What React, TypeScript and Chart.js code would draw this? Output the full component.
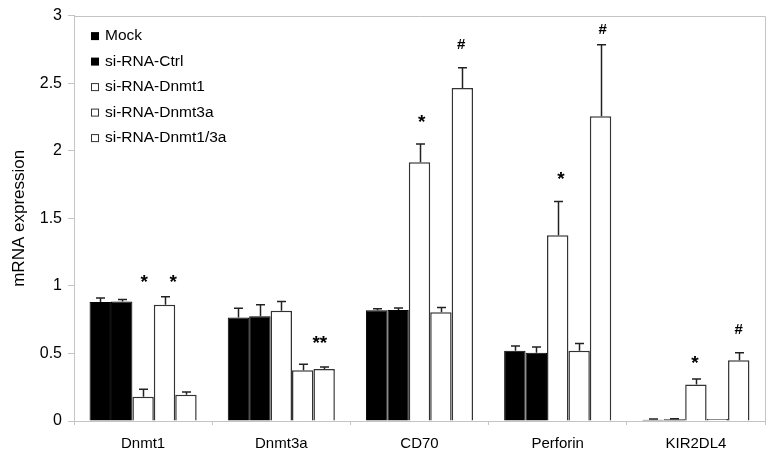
import React, { useEffect, useRef } from 'react';
import { Chart, registerables } from 'chart.js';

Chart.register(...registerables);

const categories = ['Dnmt1', 'Dnmt3a', 'CD70', 'Perforin', 'KIR2DL4'];
const seriesLabels = ['Mock', 'si-RNA-Ctrl', 'si-RNA-Dnmt1', 'si-RNA-Dnmt3a', 'si-RNA-Dnmt1/3a'];

const mock = [0.88, 0.765, 0.82, 0.52, 0.01];
const mockErr = [0.03, 0.07, 0.01, 0.035, 0.004];
const ctrl = [0.885, 0.775, 0.822, 0.505, 0.013];
const ctrlErr = [0.015, 0.085, 0.015, 0.043, 0.003];
const dnmt1 = [0.18, 0.815, 1.915, 1.375, 0.27];
const dnmt1Err = [0.055, 0.07, 0.135, 0.25, 0.04];
const dnmt3a = [0.86, 0.375, 0.805, 0.52, 0.015];
const dnmt3aErr = [0.06, 0.045, 0.035, 0.053, 0];
const dnmt13a = [0.195, 0.385, 2.465, 2.255, 0.45];
const dnmt13aErr = [0.02, 0.015, 0.15, 0.53, 0.055];

const seriesValues = [mock, ctrl, dnmt1, dnmt3a, dnmt13a];
const seriesErrors = [mockErr, ctrlErr, dnmt1Err, dnmt3aErr, dnmt13aErr];
const seriesFills = ['#000000', '#000000', '#ffffff', '#ffffff', '#ffffff'];

const yTicks = [0, 0.5, 1, 1.5, 2, 2.5, 3];

// significance markers: category, bar slot within group, symbol, value level
const markCategory = [0, 0, 1, 2, 2, 3, 3, 4, 4];
const markSlot = [2.05, 3.4, 3.8, 2.1, 3.95, 2.15, 4.1, 1.95, 4.0];
const markText = ['*', '*', '**', '*', '#', '*', '#', '*', '#'];
const markValue = [1.064, 1.064, 0.618, 2.249, 2.791, 1.83, 2.902, 0.463, 0.685];

const FONT = '"Liberation Sans", Arial, sans-serif';

const errorBarPlugin = {
  id: 'errorBars',
  afterDatasetsDraw(chart: any) {
    const ctx = chart.ctx;
    const y = chart.scales.y;
    ctx.save();
    ctx.strokeStyle = '#222';
    ctx.lineWidth = 1.5;
    chart.data.datasets.forEach((ds: any, di: number) => {
      const meta = chart.getDatasetMeta(di);
      meta.data.forEach((bar: any, i: number) => {
        const err = seriesErrors[di][i];
        if (!err) return;
        const top = y.getPixelForValue(seriesValues[di][i] + err);
        const x = Math.round(bar.x) + 0.5;
        ctx.beginPath();
        ctx.moveTo(x, bar.y);
        ctx.lineTo(x, top);
        ctx.moveTo(x - 4.5, top);
        ctx.lineTo(x + 4.5, top);
        ctx.stroke();
      });
    });
    ctx.restore();
  },
};

const framePlugin = {
  id: 'frame',
  beforeDatasetsDraw(chart: any) {
    const { ctx, chartArea } = chart;
    ctx.save();
    ctx.strokeStyle = '#c4c4c4';
    ctx.lineWidth = 1;
    ctx.beginPath();
    ctx.moveTo(chartArea.left, Math.round(chartArea.top) + 0.5);
    ctx.lineTo(Math.round(chartArea.right) + 0.5, Math.round(chartArea.top) + 0.5);
    ctx.lineTo(Math.round(chartArea.right) + 0.5, chartArea.bottom);
    ctx.stroke();
    ctx.restore();
  },
};

const marksPlugin = {
  id: 'marks',
  afterDatasetsDraw(chart: any) {
    const ctx = chart.ctx;
    const y = chart.scales.y;
    const meta0 = chart.getDatasetMeta(0);
    ctx.save();
    ctx.fillStyle = '#000';
    ctx.textAlign = 'center';
    ctx.textBaseline = 'alphabetic';
    markText.forEach((t, k) => {
      const bar: any = meta0.data[markCategory[k]];
      const w = bar.width;
      const left = bar.x - w / 2;
      const x = left + (markSlot[k] + 0.5) * w;
      const yc = y.getPixelForValue(markValue[k]);
      const isStar = t.indexOf('*') >= 0;
      const size = isStar ? 19 : 15;
      ctx.font = `bold ${size}px ${FONT}`;
      const base = yc + (isStar ? 0.58 : 0.36) * size;
      ctx.fillText(t, x, base);
    });
    ctx.restore();
  },
};

const legendPlugin = {
  id: 'customLegend',
  afterDraw(chart: any) {
    const { ctx, chartArea } = chart;
    ctx.save();
    ctx.font = `15.5px ${FONT}`;
    ctx.textBaseline = 'middle';
    ctx.textAlign = 'left';
    seriesLabels.forEach((label, i) => {
      const cy = chartArea.top + 20.5 + i * 25.5;
      const bx = chartArea.left + 17;
      if (seriesFills[i] === '#000000') {
        ctx.fillStyle = '#000';
        ctx.fillRect(bx, cy - 4, 8, 8);
      } else {
        ctx.fillStyle = '#fff';
        ctx.fillRect(bx, cy - 4, 8, 8);
        ctx.strokeStyle = '#333';
        ctx.lineWidth = 1;
        ctx.strokeRect(bx + 0.5, cy - 3.5, 7, 7);
      }
      ctx.fillStyle = '#000';
      ctx.fillText(label, bx + 14, cy);
    });
    ctx.restore();
  },
};

export default function App() {
  const ref = useRef<HTMLCanvasElement | null>(null);

  useEffect(() => {
    if (!ref.current) return;
    const chart = new Chart(ref.current, {
      type: 'bar',
      data: {
        labels: categories,
        datasets: seriesLabels.map((label, i) => ({
          label,
          data: seriesValues[i],
          backgroundColor: seriesFills[i],
          borderColor: seriesFills[i] === '#000000' ? '#000000' : '#333333',
          borderWidth: seriesFills[i] === '#000000' ? 1 : 1.5,
          categoryPercentage: 0.775,
          barPercentage: 1.0,
        })),
      },
      options: {
        responsive: false,
        animation: false,
        events: [],
        layout: { padding: { top: 15, right: 9, left: 0, bottom: 0 } },
        plugins: {
          legend: { display: false },
          tooltip: { enabled: false },
        },
        scales: {
          x: {
            grid: {
              display: true,
              drawOnChartArea: false,
              drawTicks: true,
              tickLength: 4,
              color: '#c4c4c4',
              offset: true,
            },
            border: { display: true, color: '#c4c4c4' },
            ticks: {
              color: '#000',
              font: { family: FONT, size: 15 },
              padding: 10,
              maxRotation: 0,
            },
            afterFit(scale: any) {
              scale.height = 37;
            },
          },
          y: {
            min: 0,
            max: 3,
            afterBuildTicks(scale: any) {
              scale.ticks = yTicks.map((v) => ({ value: v }));
            },
            grid: {
              display: true,
              drawOnChartArea: false,
              drawTicks: true,
              tickLength: 6,
              color: '#c4c4c4',
            },
            border: { display: true, color: '#c4c4c4' },
            ticks: {
              color: '#000',
              font: { family: FONT, size: 16 },
              padding: 6,
              callback: (v: any) => String(v),
            },
            title: {
              display: true,
              text: 'mRNA expression',
              color: '#000',
              font: { family: FONT, size: 17 },
              padding: { top: 9, bottom: 0 },
            },
            afterFit(scale: any) {
              scale.width = 74;
            },
          },
        },
      },
      plugins: [framePlugin, errorBarPlugin, marksPlugin, legendPlugin],
    });
    return () => chart.destroy();
  }, []);

  return (
    <div style={{ position: 'fixed', left: 0, top: 0, width: 774, height: 458, background: '#fff' }}>
      <canvas ref={ref} width={774} height={458} style={{ width: 774, height: 458 }} />
    </div>
  );
}
